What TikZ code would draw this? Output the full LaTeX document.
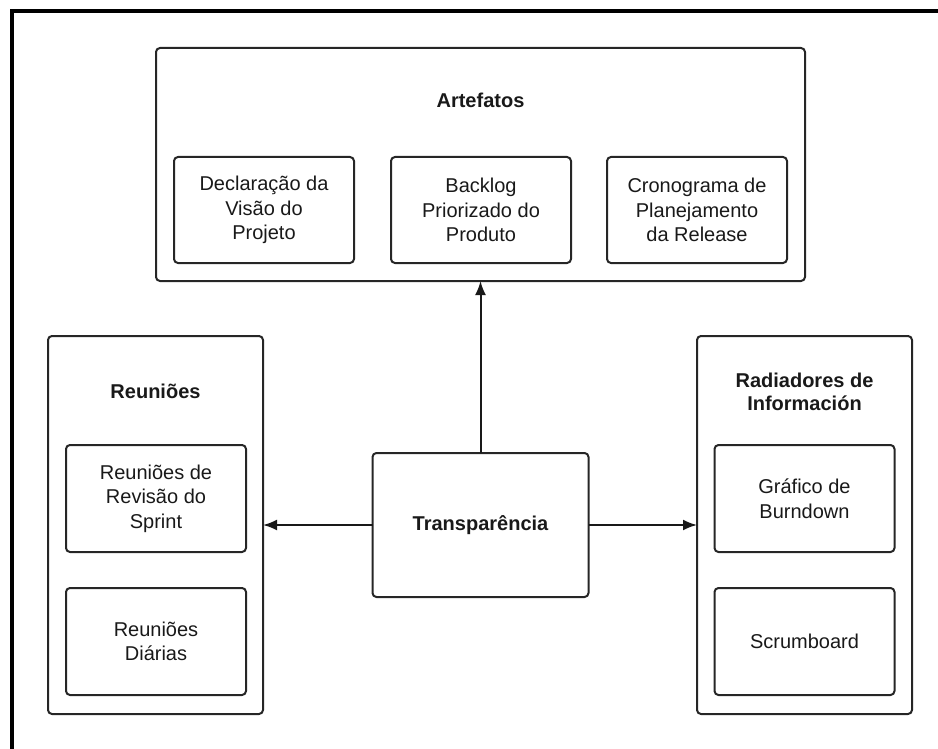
\documentclass[tikz,border=0pt]{standalone}
\usepackage{fontspec}
\setmainfont{Liberation Sans}
\usetikzlibrary{positioning,arrows.meta}
\newcommand\itemfont{\fontsize{20}{24.5}\selectfont}
\newcommand\titlefont{\fontsize{20}{23}\selectfont\bfseries}

\begin{document}
\begin{tikzpicture}[x=1pt, y=-1pt, node distance=36pt]
  \tikzset{
    group/.style={draw=black!85, line width=2pt, rounded corners=4pt, inner sep=0pt, outer sep=0pt},
    item/.style={draw=black!85, line width=2pt, rounded corners=4pt, minimum width=180pt, minimum height=107pt, inner sep=0pt, outer sep=0pt, align=center, text=black!90, font=\itemfont},
    title/.style={align=center, text=black!90, font=\titlefont},
    link/.style={-{Latex[length=14pt, width=11pt]}, line width=2pt, draw=black!90}
  }

  \useasboundingbox (0,0) rectangle (938,749);
  \draw[line width=4pt] (938,11.5) -- (11.5,11.5) -- (11.5,749);

  \node[item, minimum width=216pt, minimum height=144pt, font=\titlefont] (transparencia) at (480.5,525) {Transparência};

  \node[group, minimum width=649pt, minimum height=233pt] (artefatos) at (480.5,164.5) {};
  \node[title] (artefatostitle) at (480.5,100) {Artefatos};
  \node[item, minimum height=106pt] (backlog) at (481,210) {Backlog\\Priorizado do\\Produto};
  \node[item, minimum height=106pt, left=37pt of backlog] (visao) {Declaração da\\Visão do\\Projeto};
  \node[item, minimum height=106pt, right=36pt of backlog] (cronograma) {Cronograma de\\Planejamento\\da Release};

  \node[group, minimum width=215pt, minimum height=378pt] (reunioes) at (155.5,525) {};
  \node[title] (reunioestitle) at (155.5,391) {Reuniões};
  \node[item] (revisao) at (156,498.5) {Reuniões de\\Revisão do\\Sprint};
  \node[item, below=of revisao] (diarias) {Reuniões\\Diárias};

  \node[group, minimum width=215pt, minimum height=378pt] (radiadores) at (804.5,525) {};
  \node[title] (radiadorestitle) at (804.5,391.5) {Radiadores de\\Información};
  \node[item] (burndown) at (804.5,498.5) {Gráfico de\\Burndown};
  \node[item, below=of burndown] (scrumboard) {Scrumboard};

  \draw[link] (transparencia) -- (artefatos);
  \draw[link] (transparencia) -- (reunioes);
  \draw[link] (transparencia) -- (radiadores);
\end{tikzpicture}
\end{document}
